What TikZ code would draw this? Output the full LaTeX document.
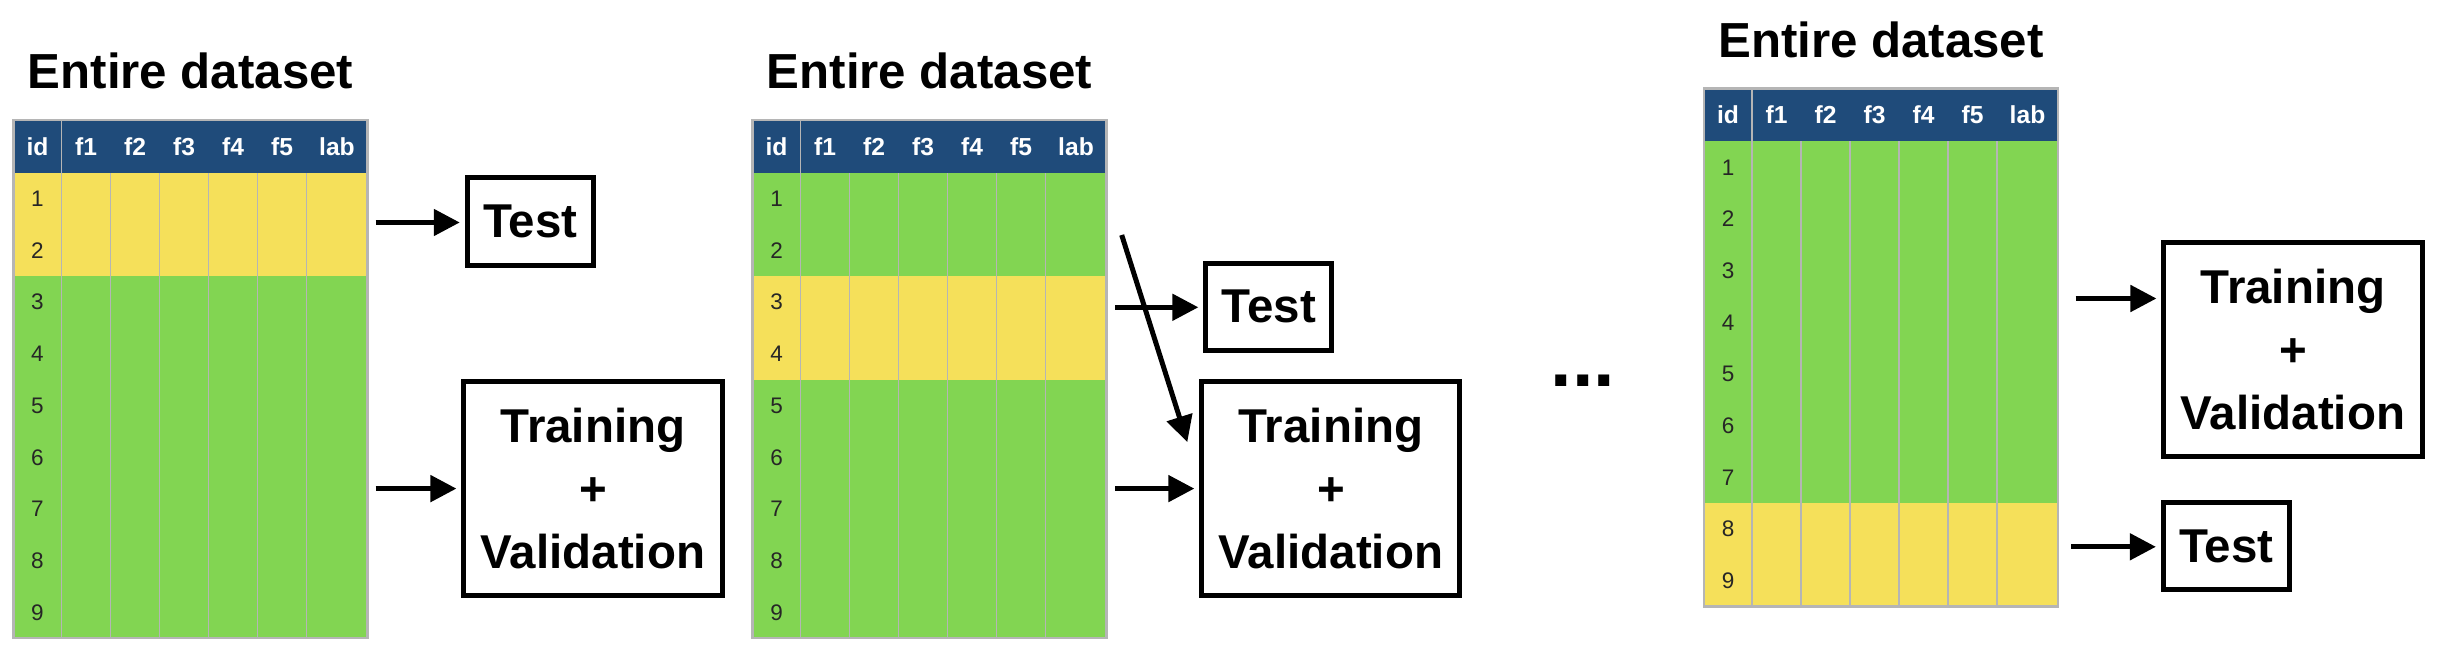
\documentclass[tikz,border=0pt]{standalone}
\usepackage{fontspec}
\setmainfont{Liberation Sans}
\usetikzlibrary{arrows.meta}
\definecolor{headblue}{HTML}{1F4B7A}
\definecolor{rowgreen}{HTML}{82D552}
\definecolor{rowyellow}{HTML}{F5E05A}
\definecolor{gridgray}{HTML}{B5B5B5}
\tikzset{
	dstitle/.style = {font=\fontsize{14}{17}\selectfont\bfseries, anchor=base},
	headlab/.style = {white, inner sep=0pt, font=\fontsize{7}{8}\selectfont\bfseries},
	rownum/.style = {black!85, inner sep=0pt, font=\fontsize{6.4}{7}\selectfont},
	gridline/.style = {gridgray, line width=0.55pt},
	outbox/.style = {draw=black, line width=1.42pt, align=center, inner sep=0pt,
		font=\fontsize{13.5}{17.9}\selectfont\bfseries},
	testbox/.style = {outbox, minimum width=1.26cm, minimum height=0.87cm},% test part
	tvbox/.style = {outbox, minimum width=2.58cm, minimum height=2.135cm},% training + validation part
	arr/.style = {-{Triangle[length=0.26cm,width=0.26cm]}, line width=1.42pt,
		shorten >=0.05cm}
}
% #1 name, #2 x, #3 y of top left corner, #4 first test row, #5 last test row
\newcommand{\datatable}[5]{
	\begin{scope}[shift={(#2,#3)}]
		\fill[headblue] (0,0) rectangle (354,53);
		\fill[rowgreen] (0,53) rectangle (354,518);
		\fill[rowyellow] (0,{53+(#4-1)*51.7}) rectangle (354,{53+#5*51.7});
		\foreach \gx in {97,146,195,244,293}
			\draw[gridline] (\gx,53) -- (\gx,518);
		\draw[gridline] (48,0) -- (48,518);
		\draw[gridgray, line width=0.7pt] (0,0) rectangle (354,518);
		\foreach \lab/\cx in {id/24,f1/72.5,f2/121.5,f3/170.5,f4/219.5,f5/268.5,lab/323.5}
			\node[headlab] (#1-\lab) at (\cx,26.5) {\lab};
		\foreach \r in {1,...,9}
			\node[rownum] (#1-r\r) at (24,{53+(\r-0.5)*51.7}) {\r};
		\node[dstitle] (#1-title) at (177,-31) {Entire dataset};
	\end{scope}
}

\begin{document}
\begin{tikzpicture}[x=0.01cm, y=-0.01cm]
	\useasboundingbox (0,0) rectangle (2448,652);
	\datatable{tab1}{13.5}{120}{1}{2}
	\datatable{tab2}{752.5}{120}{3}{4}
	\datatable{tab3}{1704}{88.5}{8}{9}
	% first split
	\node[testbox] (test1) at (530.3,221.5) {Test};
	\node[tvbox] (tv1) at (593,488.3) {Training\\+\\Validation};
	\coordinate (from1a) at (375.6,222.5);
	\coordinate (from1b) at (375.6,488.6);
	\draw[arr] (from1a) -- (from1a -| test1.west);
	\draw[arr] (from1b) -- (from1b -| tv1.west);
	% second split
	\node[testbox] (test2) at (1268.9,306.8) {Test};
	\node[tvbox] (tv2) at (1330.9,488.3) {Training\\+\\Validation};
	\coordinate (from2a) at (1115,307.3);
	\coordinate (from2b) at (1115,488.6);
	\coordinate (from2c) at (1121.7,235);
	\draw[arr] (from2a) -- (from2a -| test2.west);
	\draw[arr] (from2b) -- (from2b -| tv2.west);
	\draw[arr, shorten >=0pt] (from2c) -- ([xshift=-0.12cm,yshift=-0.63cm]tv2.north west);
	\node[font=\fontsize{22}{26}\selectfont\bfseries, anchor=base] (dots) at (1583,387) {...};
	% last split
	\node[tvbox] (tv3) at (2293,349.4) {Training\\+\\Validation};
	\node[testbox] (test3) at (2226.4,546.2) {Test};
	\coordinate (from3a) at (2075.6,298.5);
	\coordinate (from3b) at (2071,546.8);
	\draw[arr] (from3a) -- (from3a -| tv3.west);
	\draw[arr] (from3b) -- (from3b -| test3.west);
\end{tikzpicture}
\end{document}
